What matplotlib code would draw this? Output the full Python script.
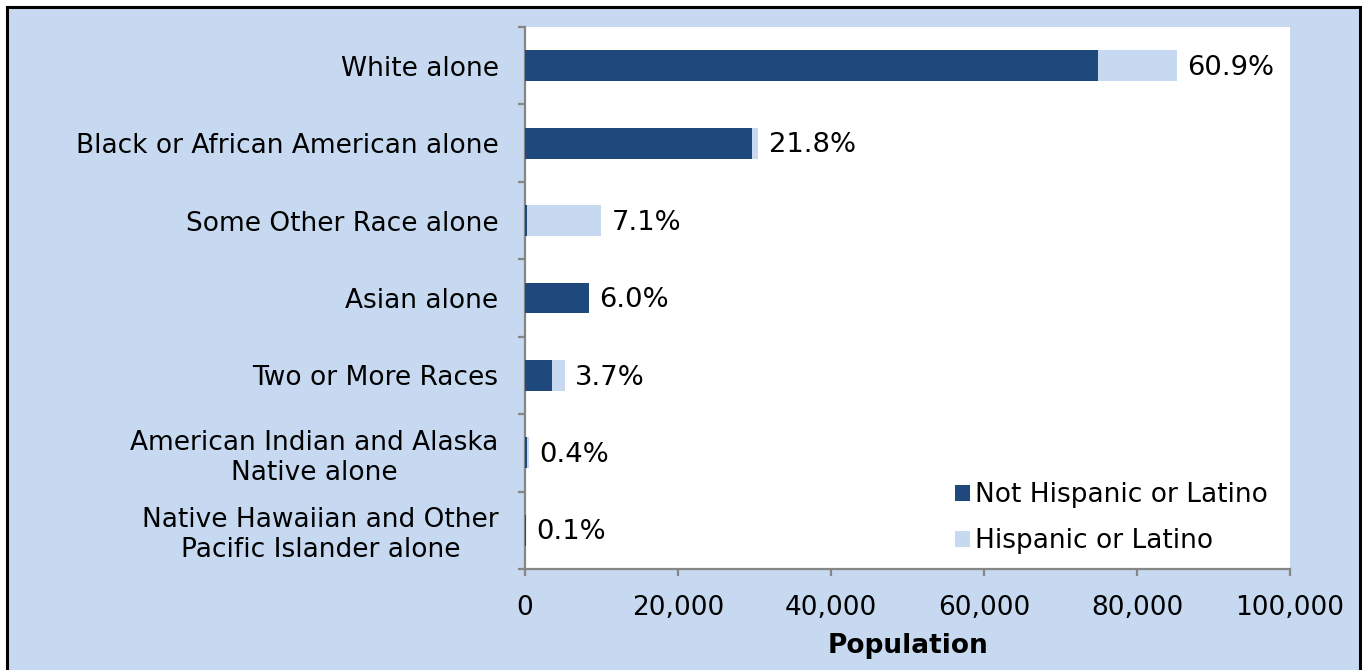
import matplotlib
matplotlib.use("Agg")
import matplotlib.pyplot as plt
from matplotlib.patches import Rectangle, Patch
from matplotlib.ticker import FuncFormatter, FixedLocator

# Population by race, split by Hispanic origin
categories = [
    "White alone",
    "Black or African American alone",
    "Some Other Race alone",
    "Asian alone",
    "Two or More Races",
    "American Indian and Alaska\nNative alone",
    "Native Hawaiian and Other\nPacific Islander alone",
]
not_hispanic = [74850, 29700, 300, 8330, 3480, 280, 100]
hispanic = [10350, 800, 9630, 60, 1700, 280, 40]
series_names = ["Not Hispanic or Latino", "Hispanic or Latino"]
x_ticks = [0, 20000, 40000, 60000, 80000, 100000]

DARK = "#1F497D"
LIGHT = "#C6D9F1"
PANEL = "#C6D9F0"
AXIS_GREY = "#868686"
FS = 19

plt.rcParams["font.family"] = ["DejaVu Sans"]

W, H = 1362, 670
fig = plt.figure(figsize=(W / 100, H / 100), dpi=100, facecolor="white")

# light-blue chart panel with a black frame
fig.patches.append(Rectangle((7 / W, -0.05), (1360 - 7) / W, 1 - 7 / H + 0.05,
                             transform=fig.transFigure, facecolor=PANEL,
                             edgecolor="black", linewidth=2.2, zorder=-5))

ax = fig.add_axes([525 / W, 1 - 569 / H, (1290 - 525) / W, (569 - 27) / H])
ax.set_zorder(2)
ax.set_facecolor("white")

n = len(categories)
ypos = list(range(n))
totals = [a + b for a, b in zip(not_hispanic, hispanic)]
grand = sum(totals)

ax.barh(ypos, not_hispanic, height=0.4, color=DARK, label=series_names[0], zorder=3)
ax.barh(ypos, hispanic, left=not_hispanic, height=0.4, color=LIGHT,
        label=series_names[1], zorder=3)

for y, t in zip(ypos, totals):
    ax.annotate(f"{t / grand * 100:.1f}%", xy=(t, y), xytext=(7.5, -1.5),
                textcoords="offset points", ha="left", va="center",
                fontsize=FS + 0.7, color="black")

ax.set_xlim(0, 100000)
ax.set_ylim(n - 0.5, -0.5)

ax.set_xticks(x_ticks)
ax.xaxis.set_major_formatter(FuncFormatter(lambda v, p: f"{int(v):,}"))
ax.set_yticks(ypos)
ax.set_yticklabels(categories, fontsize=FS, ha="right", linespacing=1.2)
ax.yaxis.set_minor_locator(FixedLocator([i + 0.5 for i in range(-1, n)]))

for s in ("top", "right"):
    ax.spines[s].set_visible(False)
for s in ("left", "bottom"):
    ax.spines[s].set_color(AXIS_GREY)
    ax.spines[s].set_linewidth(1.6)

ax.tick_params(axis="y", which="major", length=0, pad=19)
ax.tick_params(axis="y", which="minor", length=5, width=1.6, color=AXIS_GREY,
               direction="out")
ax.tick_params(axis="x", which="major", length=5, width=1.6, color=AXIS_GREY,
               direction="out", labelsize=FS, pad=13.5)
for lbl in ax.get_yticklabels():
    lbl.set_multialignment("center")

ax.set_xlabel("Population", fontsize=FS, fontweight="bold", labelpad=9)

handles = [Patch(facecolor=DARK, edgecolor="none"), Patch(facecolor=LIGHT, edgecolor="none")]
ax.legend(handles, series_names, loc="upper left",
          bbox_to_anchor=((955 - 525) / 765, (569 - 482) / 542),
          frameon=False, fontsize=FS, handlelength=0.56, handleheight=0.56,
          handletextpad=0.2, labelspacing=0.76, borderpad=0, borderaxespad=0)

fig.savefig("out.png", dpi=100, facecolor="white")
